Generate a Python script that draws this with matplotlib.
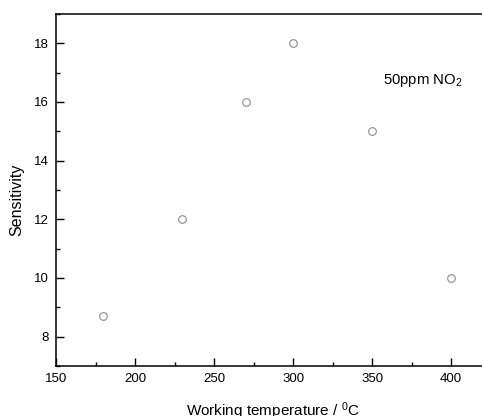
import matplotlib
matplotlib.use("Agg")
import matplotlib.pyplot as plt
from matplotlib.ticker import MultipleLocator

plt.rcParams['font.family'] = ['Liberation Sans', 'DejaVu Sans']
plt.rcParams['mathtext.fontset'] = 'custom'
plt.rcParams['mathtext.rm'] = 'Liberation Sans'
plt.rcParams['mathtext.it'] = 'Liberation Sans'

temperature = [180, 230, 270, 300, 350, 400]
sensitivity = [8.7, 12.0, 16.0, 18.0, 15.0, 10.0]

fig = plt.figure(figsize=(4.82, 4.16), dpi=100)
ax = fig.add_axes([56/482, 50/416, 1 - 56/482, (366-14)/416])

ax.plot(temperature, sensitivity, linestyle='none', marker='o', markersize=5.5,
        markerfacecolor='white', markeredgecolor='#8c8c8c', markeredgewidth=0.8)

ax.set_xlim(150, 419.6)
ax.set_ylim(7, 19)
ax.xaxis.set_major_locator(MultipleLocator(50))
ax.xaxis.set_minor_locator(MultipleLocator(25))
ax.yaxis.set_major_locator(MultipleLocator(2))
ax.yaxis.set_minor_locator(MultipleLocator(1))
ax.tick_params(which='both', direction='in', top=False, right=False, labelsize=9.5, width=1)
ax.tick_params(which='major', length=6, pad=5)
ax.tick_params(which='minor', length=3)
ax.spines['right'].set_visible(False)
for s in ['left', 'bottom', 'top']:
    ax.spines[s].set_linewidth(1.1)

ax.set_xlabel('Working temperature / $^0$C', fontsize=11)
ax.set_ylabel('Sensitivity', fontsize=11.5)
ax.xaxis.set_label_coords(0.509, -0.099)
ax.yaxis.set_label_coords(-0.075, 0.472)
ax.text(357, 16.61, '50ppm NO$_2$', fontsize=10.7)

fig.savefig('out.png', dpi=100)
